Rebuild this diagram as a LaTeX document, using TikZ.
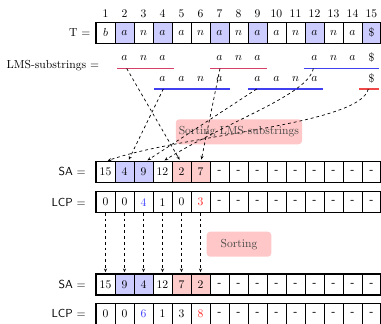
\documentclass[tikz,border=0pt]{standalone}
\usetikzlibrary{arrows.meta}
\definecolor{lmsred}{RGB}{214,64,104}
\definecolor{lmsblue}{RGB}{64,64,240}
\definecolor{dollred}{RGB}{238,72,72}
\begin{document}
\begin{tikzpicture}[x=0.86pt,y=-0.86pt,
  cellbox/.style={draw, line width=0.6pt, minimum width=16.34pt, minimum height=18.06pt, inner sep=0pt, outer sep=0pt},
  rowframe/.style={line width=1pt},
  lbl/.style={anchor=east, inner sep=0pt},
  idx/.style={inner sep=0pt},
  sub/.style={inner sep=0pt},
  subline/.style={line width=1.1pt},
  dasharrow/.style={dashed, dash pattern=on 2.5pt off 2.5pt, line width=0.6pt, -{Stealth[length=3.2pt,width=2.6pt]}, shorten >=1.5pt},
  sortbox/.style={fill=red!22, rounded corners=3pt, text=black!72, inner sep=0pt},
  dsh/.style={font=\sffamily\bfseries}
]
\useasboundingbox (0,0) rectangle (381,324);

% index numbers
\foreach \i in {1,...,15}
  \node[idx] (I\i) at ({96+(\i-0.5)*19},14) {\i};

% T row
\node[lbl] (Tl) at (90.7,32.8) {T =};
\foreach \i/\v/\f in {1/$b$/white,2/$a$/blue!20,3/$n$/white,4/$a$/blue!20,5/$a$/white,6/$n$/white,7/$a$/blue!20,8/$n$/white,9/$a$/blue!20,10/$a$/white,11/$n$/white,12/$a$/blue!20,13/$n$/white,14/$a$/white,15/\$/blue!20}
  \node[cellbox, fill=\f] (T\i) at ({96+(\i-0.5)*19},32.8) {\v};
\draw[rowframe] (T1.north west) rectangle (T15.south east);

% LMS substrings
\node[lbl] (Ll) at (99.3,66) {LMS-substrings =};
% row 1
\foreach \i/\v in {2/a,3/n,4/a,7/a,8/n,9/a,12/a,13/n,14/a}
  \node[sub] (A\i) at ({96+(\i-0.5)*19},58) {$\v$};
\node[sub] (A15) at ({96+14.5*19},57) {\$};
\coordinate (s1a) at (117,68.5); \coordinate (s1b) at (173.7,68.5);
\coordinate (s2a) at (210.3,68.5); \coordinate (s2b) at (266.7,68.5);
\coordinate (s3a) at (303.7,68.5); \coordinate (s3b) at (378.7,68.5);
\draw[subline, lmsred] (s1a) -- (s1b);
\draw[subline, lmsred] (s2a) -- (s2b);
\draw[subline, lmsblue] (s3a) -- (s3b);
% row 2
\foreach \i/\v in {4/a,5/a,6/n,7/a,9/a,10/a,11/n,12/a}
  \node[sub] (B\i) at ({96+(\i-0.5)*19},79) {$\v$};
\node[sub] (B15) at ({96+14.5*19},78) {\$};
\coordinate (s4a) at (154.3,89); \coordinate (s4b) at (229.7,89);
\coordinate (s5a) at (247.7,89); \coordinate (s5b) at (322.7,89);
\coordinate (s6a) at (359.3,89); \coordinate (s6b) at (378.7,89);
\draw[subline, lmsblue] (s4a) -- (s4b);
\draw[subline, lmsblue] (s5a) -- (s5b);
\draw[subline, dollred] (s6a) -- (s6b);

% Sorting LMS-substrings box
\node[sortbox, minimum width=108.6pt, minimum height=21.5pt] (sortlms) at (238.9,131.8) {Sorting LMS-substrings};

% SA row 1
\node[lbl, font=\sffamily] (SAl1) at (86,171.7) {SA =};
\foreach \i/\v/\f in {1/15/white,2/4/blue!20,3/9/blue!20,4/12/white,5/2/red!20,6/7/red!20}
  \node[cellbox, fill=\f] (SA\i) at ({96+(\i-0.5)*19},171.7) {\v};
\foreach \i in {7,...,15}
  \node[cellbox, dsh] (SA\i) at ({96+(\i-0.5)*19},171.7) {-};
\draw[rowframe] (SA1.north west) rectangle (SA15.south east);

% LCP row 1
\node[lbl, font=\sffamily] (LCPl1) at (86,202.2) {LCP =};
\foreach \i/\v in {1/0,2/0,3/{\color{blue!75}4},4/1,5/0,6/{\color{red!85}3}}
  \node[cellbox] (LCP\i) at ({96+(\i-0.5)*19},202.2) {\v};
\foreach \i in {7,...,15}
  \node[cellbox, dsh] (LCP\i) at ({96+(\i-0.5)*19},202.2) {-};
\draw[rowframe] (LCP1.north west) rectangle (LCP15.south east);

% arrows from LMS substrings to SA
\coordinate (p1) at (126.7,68.5);
\coordinate (p2) at (220,68.5);
\coordinate (p3) at (313.3,68.5);
\coordinate (p4) at (163.3,89);
\coordinate (p5) at (256.7,89);
\coordinate (p6) at (368.3,89);
\coordinate (q1) at (106,161.3);
\coordinate (q2) at (128,161.3);
\coordinate (q3) at (146,161.3);
\coordinate (q4) at (163,161.3);
\coordinate (q5) at (180.5,161.3);
\coordinate (q6) at (201,161.3);
\draw[dasharrow] (p1) -- (q5);
\draw[dasharrow] (p2) -- (q6);
\draw[dasharrow] (p4) -- (q2);
\draw[dasharrow] (p5) -- (q3);
\draw[dasharrow] (p3) .. controls (308,95) and (230,120) .. (q4);
\draw[dasharrow] (p6) .. controls (360,125) and (180,135) .. (q1);

% Sorting box
\node[sortbox, minimum width=55.6pt, minimum height=21.5pt] (sortb) at (239,244.2) {Sorting};

% SA row 2
\node[lbl, font=\sffamily] (SAl2) at (86,284.5) {SA =};
\foreach \i/\v/\f in {1/15/white,2/9/blue!20,3/4/blue!20,4/12/white,5/7/red!20,6/2/red!20}
  \node[cellbox, fill=\f] (SB\i) at ({96+(\i-0.5)*19},284.5) {\v};
\foreach \i in {7,...,15}
  \node[cellbox, dsh] (SB\i) at ({96+(\i-0.5)*19},284.5) {-};
\draw[rowframe] (SB1.north west) rectangle (SB15.south east);

% LCP row 2
\node[lbl, font=\sffamily] (LCPl2) at (86,313.8) {LCP =};
\foreach \i/\v in {1/0,2/0,3/{\color{blue!75}6},4/1,5/3,6/{\color{red!85}8}}
  \node[cellbox] (LCQ\i) at ({96+(\i-0.5)*19},313.8) {\v};
\foreach \i in {7,...,15}
  \node[cellbox, dsh] (LCQ\i) at ({96+(\i-0.5)*19},313.8) {-};
\draw[rowframe] (LCQ1.north west) rectangle (LCQ15.south east);

% vertical arrows
\foreach \i in {1,...,6}
  \draw[dasharrow] (LCP\i.south) -- (SB\i.north);
\end{tikzpicture}
\end{document}
